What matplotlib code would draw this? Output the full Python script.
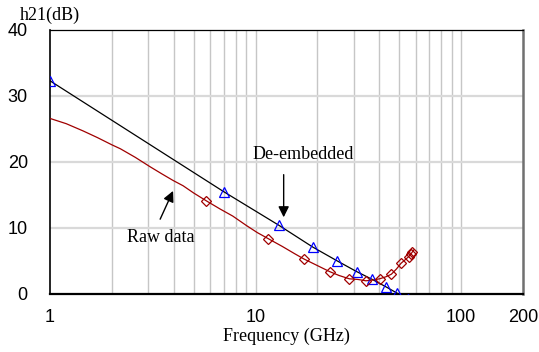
import matplotlib
matplotlib.use("Agg")
import matplotlib.pyplot as plt
import numpy as np

# de-embedded h21 (black line, blue triangles)
deemb_f = [1, 7, 13, 19, 25, 31, 37, 43, 49, 55]
deemb_db = [32.3, 15.5, 10.4, 7.1, 5.0, 3.4, 2.2, 1.1, 0.1, -0.7]

# raw h21 (dark red line, diamonds)
raw_f = [1.0, 1.2, 1.45, 1.7, 2.0, 2.2, 2.6, 3.06, 3.5, 3.97, 4.44, 5.0, 5.77,
         6.7, 7.75, 9.0, 10.2, 11.5, 13.5, 15.5, 17.2, 20.0, 22.9, 25.5, 28.6,
         31.5, 34.4, 37.0, 40.1, 43.0, 45.8, 48.5, 51.0, 53.5, 55.5, 57.0,
         58.0, 59.0]
raw_db = [26.6, 25.8, 24.7, 23.7, 22.6, 22.0, 20.7, 19.3, 18.2, 17.2, 16.4,
          15.3, 14.1, 12.9, 11.8, 10.4, 9.3, 8.4, 7.2, 6.1, 5.3, 4.3, 3.4, 2.8,
          2.3, 2.2, 2.0, 2.1, 2.3, 2.6, 3.0, 3.8, 4.65, 5.2, 5.65, 6.06, 6.4,
          6.7]
raw_marked = [5.77, 11.5, 17.2, 22.9, 28.6, 34.4, 40.1, 45.8, 51.0, 55.5,
              57.0, 58.0]

xticks = [1, 10, 100, 200]
xlabels = ["1", "10", "100", "200"]
yticks = [0, 10, 20, 30, 40]

serif = "Liberation Serif"
sans = "Liberation Sans"

fig = plt.figure(figsize=(5.39, 3.52), dpi=100)
ax = fig.add_axes([0.0928, 0.1648, 0.8775, 0.75])

ax.set_xscale("log")
ax.set_xlim(1, 200)
ax.set_ylim(0, 40)

# grid: vertical lines 2..100, horizontal 10..30
for g in list(range(2, 10)) + list(range(10, 101, 10)):
    ax.axvline(g, color="#c6c6c6", lw=1.0, zorder=0)
for g in [10, 20, 30]:
    ax.axhline(g, color="#d9d9d9", lw=1.6, zorder=0)

ax.plot(deemb_f, deemb_db, color="black", lw=0.9, zorder=3)
ax.plot(deemb_f, deemb_db, ls="none", marker="^", ms=7.5, mfc="none",
        mec="#0000ff", mew=0.9, zorder=4)

ax.plot(raw_f, raw_db, color="#a00000", lw=0.9, zorder=3)
mark_idx = [i for i, f in enumerate(raw_f) if f in raw_marked]
ax.plot(np.array(raw_f)[mark_idx], np.array(raw_db)[mark_idx], ls="none",
        marker="D", ms=4.8, mfc="none", mec="#a00000", mew=0.9, zorder=4)

ax.set_xticks(xticks)
ax.set_xticklabels(xlabels)
ax.xaxis.set_minor_locator(matplotlib.ticker.NullLocator())
ax.set_yticks(yticks)
ax.tick_params(length=0, labelsize=13)
ax.tick_params(axis="x", pad=11)
ax.tick_params(axis="y", pad=16)
for lab in ax.get_xticklabels() + ax.get_yticklabels():
    lab.set_fontfamily(sans)
plt.setp(ax.get_yticklabels(), va="center_baseline")

for side in ["left", "bottom", "top"]:
    ax.spines[side].set_color("black")
ax.spines["left"].set_linewidth(1.2)
ax.spines["bottom"].set_linewidth(1.6)
ax.spines["top"].set_linewidth(0.9)
ax.spines["right"].set_color("#707070")
ax.spines["right"].set_linewidth(1.8)

ax.set_xlabel("Frequency (GHz)", fontfamily=serif, fontsize=13, labelpad=1)
fig.text(0.0371, 0.957, "h21(dB)", fontfamily=serif, fontsize=13,
         ha="left", va="center")

ax.annotate("", xy=(13.7, 11.2), xytext=(13.7, 18.5),
            arrowprops=dict(arrowstyle="-|>", color="black", lw=1.0,
                            mutation_scale=16))
ax.text(17.0, 21.1, "De-embedded", fontfamily=serif, fontsize=13,
        ha="center", va="center")
ax.annotate("", xy=(4.02, 16.0), xytext=(3.39, 10.95),
            arrowprops=dict(arrowstyle="-|>", color="black", lw=1.0,
                            mutation_scale=16))
ax.text(3.47, 8.6, "Raw data", fontfamily=serif, fontsize=13,
        ha="center", va="center")

fig.savefig("out.png", dpi=100)
